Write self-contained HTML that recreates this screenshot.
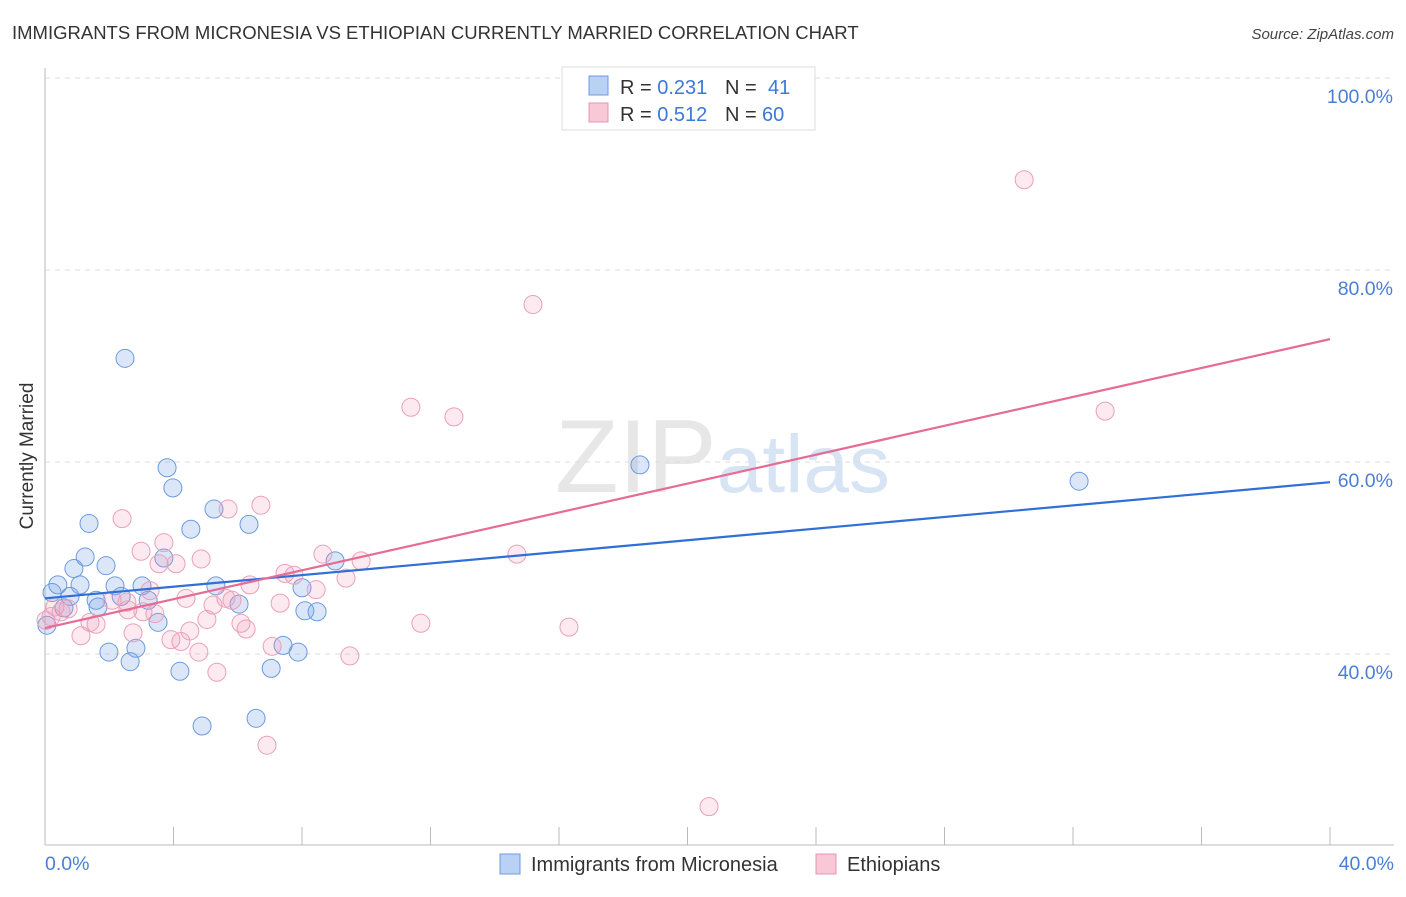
<!DOCTYPE html>
<html><head><meta charset="utf-8"><style>
body{margin:0;background:#fff;font-family:"Liberation Sans",sans-serif;}
svg text{font-family:"Liberation Sans",sans-serif;}
</style></head><body>
<svg id="chart" width="1406" height="892" xmlns="http://www.w3.org/2000/svg">
<text x="12" y="39" font-size="18.5" fill="#333">IMMIGRANTS FROM MICRONESIA VS ETHIOPIAN CURRENTLY MARRIED CORRELATION CHART</text>
<text x="1394" y="39" font-size="15" fill="#444" text-anchor="end" font-style="italic">Source: ZipAtlas.com</text>
<text x="555" y="492" font-size="104" fill="#ddd" font-family="Liberation Serif" opacity="0.7">ZIP<tspan fill="#c7d9f0" font-family="Liberation Sans" font-size="82">atlas</tspan></text>
<g id="grid"></g>
<line x1="45" y1="68" x2="45" y2="845" stroke="#bbb"/>
<line x1="45" y1="845" x2="1394" y2="845" stroke="#bbb"/>
<g id="ticks"></g>
<text transform="translate(33,456) rotate(-90)" font-size="19" fill="#333" text-anchor="middle">Currently Married</text>
<text x="45" y="870" font-size="19.5" fill="#4a7fd4">0.0%</text>
<text x="1394" y="870" font-size="19.5" fill="#4a7fd4" text-anchor="end">40.0%</text>
<g id="points"></g>
<g id="lines"></g>
<g>
<rect x="562" y="67" width="253" height="63" fill="#fff" stroke="#ddd"/>
<rect x="589" y="76" width="19" height="19" fill="#b9d1f3" stroke="#6c9ae0"/>
<rect x="589" y="103" width="19" height="19" fill="#f9c8d7" stroke="#e895b0"/>
<text x="620" y="94" font-size="20" fill="#333">R = <tspan fill="#3c78d8">0.231</tspan></text>
<text x="725" y="94" font-size="20" fill="#333">N = <tspan fill="#3c78d8" x="768">41</tspan></text>
<text x="620" y="121" font-size="20" fill="#333">R = <tspan fill="#3c78d8">0.512</tspan></text>
<text x="725" y="121" font-size="20" fill="#333">N = <tspan fill="#3c78d8" x="762">60</tspan></text>
</g>
<g>
<rect x="500" y="854" width="20" height="20" fill="#b9d1f3" stroke="#6c9ae0"/>
<text x="531" y="871" font-size="20" fill="#333">Immigrants from Micronesia</text>
<rect x="816" y="854" width="20" height="20" fill="#f9c8d7" stroke="#e895b0"/>
<text x="847" y="871" font-size="20" fill="#333">Ethiopians</text>
</g>
</svg>
<script>
const yTicks=[40,60,80,100];
const xTickCount=10;
const blueX=[2.49,3.80,3.98,1.37,5.26,6.35,4.54,1.25,3.70,1.90,0.90,0.40,1.09,2.18,3.02,5.32,8.00,0.22,0.78,1.59,2.37,3.21,1.65,6.04,8.09,8.47,3.52,0.06,1.99,2.83,7.41,7.88,2.65,4.20,7.04,4.89,6.57,9.03,18.52,32.19,0.59];
const blueY=[70.8,59.4,57.3,53.6,55.1,53.5,53.0,50.1,50.0,49.2,48.9,47.2,47.2,47.1,47.1,47.1,46.9,46.4,46.0,45.6,46.0,45.6,44.9,45.2,44.5,44.4,43.3,43.0,40.2,40.6,40.9,40.2,39.2,38.2,38.5,32.5,33.3,49.7,59.7,58.0,44.8];
const pinkX=[30.48,15.19,11.39,12.73,33.00,2.40,6.72,5.70,2.99,3.70,4.86,4.08,3.55,8.65,14.69,9.84,7.47,7.75,9.37,6.38,8.44,3.27,4.39,5.63,5.82,2.09,2.55,7.32,5.23,0.31,0.72,0.50,2.58,3.05,3.42,0.19,5.04,1.40,1.59,6.10,11.70,6.26,4.51,16.31,2.74,1.12,3.92,4.23,4.79,7.07,9.49,5.35,6.91,20.67,0.03];
const pinkY=[89.4,76.4,65.7,64.7,65.3,54.1,55.5,55.1,50.7,51.6,49.9,49.4,49.4,50.4,50.4,49.7,48.4,48.2,47.9,47.2,46.7,46.6,45.8,45.8,45.6,45.6,45.4,45.3,45.1,44.9,44.7,44.4,44.6,44.4,44.2,43.9,43.6,43.3,43.1,43.2,43.2,42.6,42.4,42.8,42.2,41.9,41.5,41.3,40.2,40.8,39.8,38.1,30.5,24.1,43.5];
const blueTrend=[45.8,57.9];
const pinkTrend=[42.7,72.8];
const xs=v=>45+v/40*1285;
const ys=v=>78+(100-v)/20*192;
const NS="http://www.w3.org/2000/svg";
function mk(t,a,p){const e=document.createElementNS(NS,t);for(const k in a)e.setAttribute(k,a[k]);p.appendChild(e);return e;}
const grid=document.getElementById('grid'),ticks=document.getElementById('ticks');
yTicks.forEach(t=>{
 const l=mk('line',{x1:45,x2:1394,y1:ys(t),y2:ys(t),stroke:'#ddd','stroke-dasharray':'5,5'},grid);
 
 
 const tx=mk('text',{x:1393,y:ys(t)+25,'font-size':19.5,fill:'#4a7fd4','text-anchor':'end'},ticks);
 tx.textContent=t.toFixed(1)+'%';
 
 
});
for(let i=1;i<=xTickCount;i++){
 const l=mk('line',{x1:xs(i*4),x2:xs(i*4),y1:827,y2:845,stroke:'#bbb'},ticks);
 
 
}
const pts=document.getElementById('points');
blueX.forEach((x,i)=>{
 const c=mk('circle',{cx:xs(x),cy:ys(blueY[i]),r:9,fill:'rgba(110,160,230,0.25)',stroke:'#6c9ae0','stroke-width':1},pts);
 
 
});
pinkX.forEach((x,i)=>{
 const c=mk('circle',{cx:xs(x),cy:ys(pinkY[i]),r:9,fill:'rgba(240,150,180,0.2)',stroke:'#eba0b8','stroke-width':1},pts);
 
 
});
const lines=document.getElementById('lines');
const bl=mk('line',{x1:xs(0),y1:ys(blueTrend[0]),x2:xs(40),y2:ys(blueTrend[1]),stroke:'#2f6fd6','stroke-width':2.2},lines);


const pl=mk('line',{x1:xs(0),y1:ys(pinkTrend[0]),x2:xs(40),y2:ys(pinkTrend[1]),stroke:'#e66b96','stroke-width':2.2},lines);


</script>
</body></html>
